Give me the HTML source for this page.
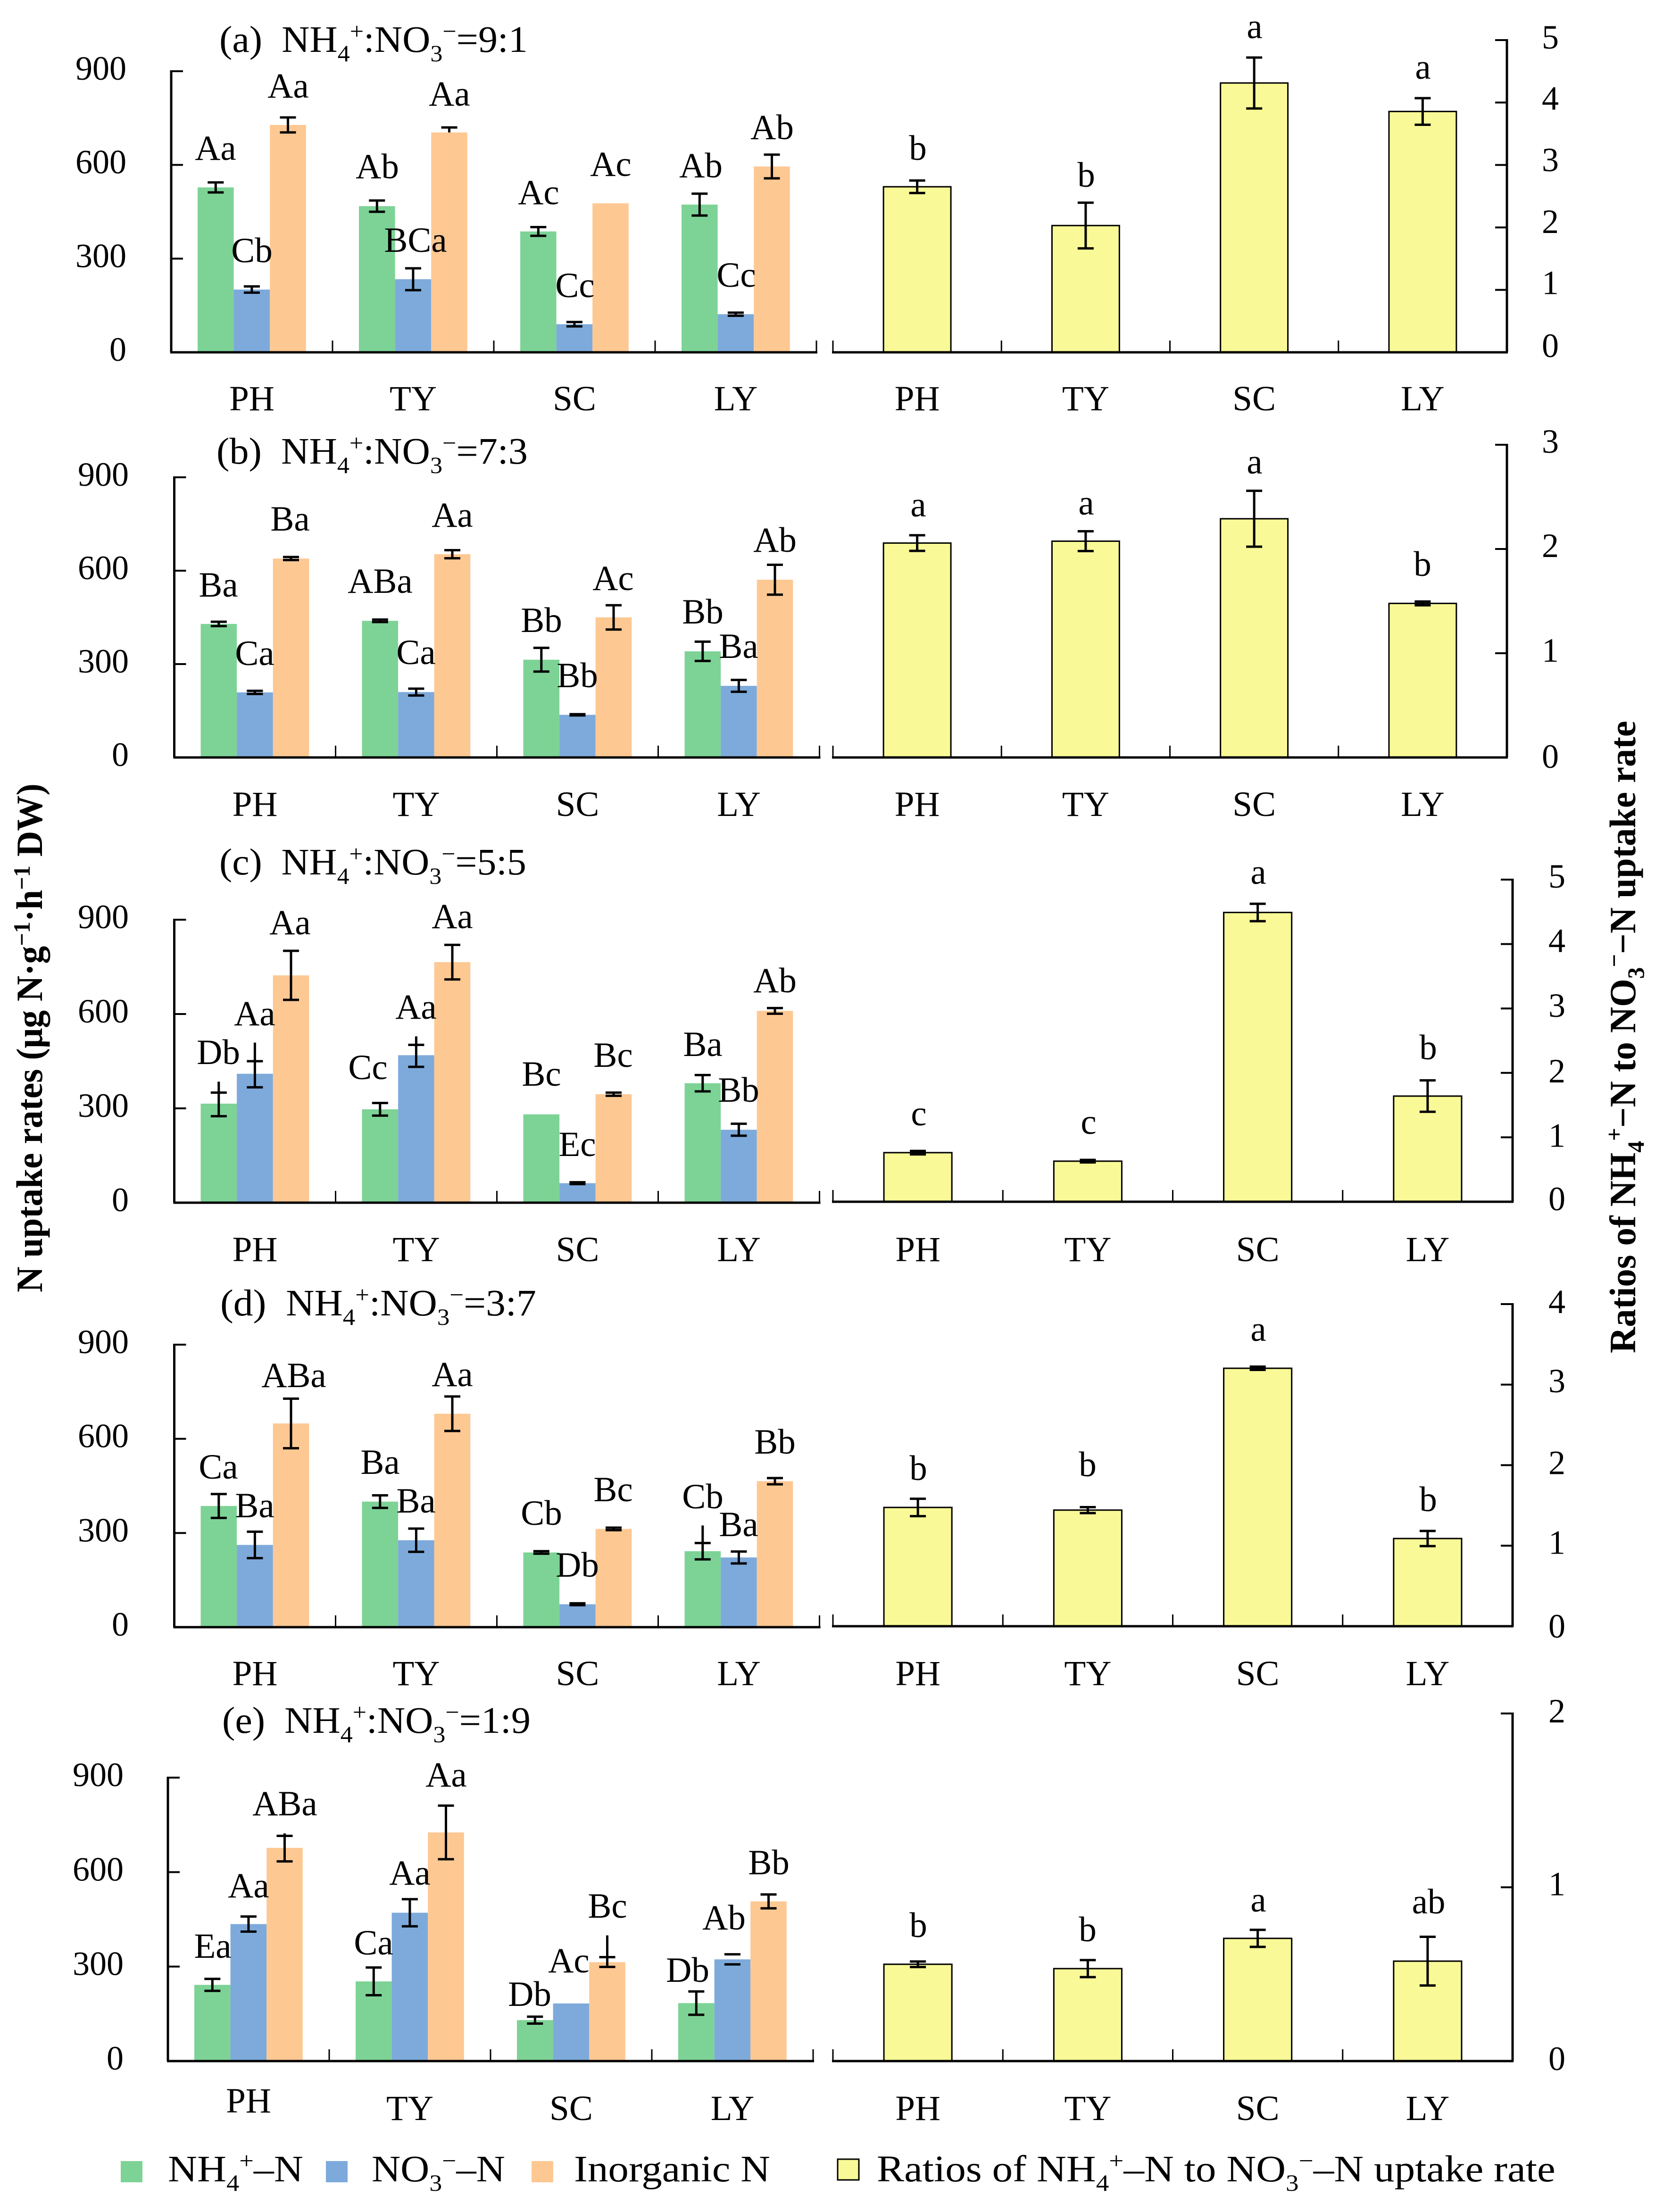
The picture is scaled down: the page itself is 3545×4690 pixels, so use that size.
<!DOCTYPE html>
<html lang="en">
<head>
<meta charset="utf-8">
<title>N uptake rates chart</title>
<style>
html,body{margin:0;padding:0;background:#fff;}
svg{display:block;}
text{font-family:"Liberation Serif","DejaVu Serif",serif;font-size:75px;fill:#000;white-space:pre;}
text.tick{font-size:72px;}
text.fit{font-size:79px;}
.sub{font-size:50px;}
text.bold{font-weight:bold;font-size:78px;}
.bold .sub{font-size:50px;}
</style>
</head>
<body>
<svg id="chart" xmlns="http://www.w3.org/2000/svg" width="3545" height="4690" viewBox="0 0 3545 4690">
<rect x="0" y="0" width="3545" height="4690" fill="#ffffff"/>
<g id="marks"></g>

<text class="fit" data-x="465" data-y="110" data-w="654">(a)  NH<tspan class="sub" dy="20">4</tspan><tspan class="sub" dy="-47">+</tspan><tspan dy="27">:NO</tspan><tspan class="sub" dy="20">3</tspan><tspan class="sub" dy="-47">−</tspan><tspan dy="27">=9:1</tspan></text>
<text class="fit" data-x="459" data-y="983" data-w="660">(b)  NH<tspan class="sub" dy="20">4</tspan><tspan class="sub" dy="-47">+</tspan><tspan dy="27">:NO</tspan><tspan class="sub" dy="20">3</tspan><tspan class="sub" dy="-47">−</tspan><tspan dy="27">=7:3</tspan></text>
<text class="fit" data-x="465" data-y="1854" data-w="651">(c)  NH<tspan class="sub" dy="20">4</tspan><tspan class="sub" dy="-47">+</tspan><tspan dy="27">:NO</tspan><tspan class="sub" dy="20">3</tspan><tspan class="sub" dy="-47">−</tspan><tspan dy="27">=5:5</tspan></text>
<text class="fit" data-x="467" data-y="2789" data-w="670">(d)  NH<tspan class="sub" dy="20">4</tspan><tspan class="sub" dy="-47">+</tspan><tspan dy="27">:NO</tspan><tspan class="sub" dy="20">3</tspan><tspan class="sub" dy="-47">−</tspan><tspan dy="27">=3:7</tspan></text>
<text class="fit" data-x="471" data-y="3674" data-w="654">(e)  NH<tspan class="sub" dy="20">4</tspan><tspan class="sub" dy="-47">+</tspan><tspan dy="27">:NO</tspan><tspan class="sub" dy="20">3</tspan><tspan class="sub" dy="-47">−</tspan><tspan dy="27">=1:9</tspan></text>

<text class="fit bold" data-x="89" data-y="2740" data-w="1079" data-rot="-90">N uptake rates (μg N·g<tspan class="sub" dy="-26">−1</tspan><tspan dy="26">·h</tspan><tspan class="sub" dy="-26">−1</tspan><tspan dy="26"> DW)</tspan></text>
<text class="fit bold" data-x="3467" data-y="2869" data-w="1341" data-rot="-90">Ratios of NH<tspan class="sub" dy="18">4</tspan><tspan class="sub" dy="-46">+</tspan><tspan dy="28">−N to NO</tspan><tspan class="sub" dy="18">3</tspan><tspan class="sub" dy="-46">−</tspan><tspan dy="28">−N uptake rate</tspan></text>

<g>
<rect x="256" y="4582" width="46" height="45" fill="#7DD396"/>
<text class="fit" data-x="356" data-y="4625" data-w="287">NH<tspan class="sub" dy="20">4</tspan><tspan class="sub" dy="-47">+</tspan><tspan dy="27">–N</tspan></text>
<rect x="691" y="4582" width="46" height="45" fill="#7DAADB"/>
<text class="fit" data-x="788" data-y="4625" data-w="283">NO<tspan class="sub" dy="20">3</tspan><tspan class="sub" dy="-47">−</tspan><tspan dy="27">–N</tspan></text>
<rect x="1127" y="4582" width="46" height="45" fill="#FEC893"/>
<text class="fit" data-x="1217" data-y="4625" data-w="416">Inorganic N</text>
<rect x="1776" y="4578" width="45" height="44" fill="#F9F997" stroke="#000" stroke-width="3"/>
<text class="fit" data-x="1859" data-y="4625" data-w="1439">Ratios of NH<tspan class="sub" dy="20">4</tspan><tspan class="sub" dy="-47">+</tspan><tspan dy="27">–N to NO</tspan><tspan class="sub" dy="20">3</tspan><tspan class="sub" dy="-47">−</tspan><tspan dy="27">–N uptake rate</tspan></text>
</g>
</svg>

<script>
// ---------- data ----------
const categories = ['PH', 'TY', 'SC', 'LY'];
const leftTicks = [0, 300, 600, 900];

// Error entries: [up, down, extraStemAboveCap]; down null = no lower cap; [0,0] = no error bar.
const aNh4 = [528, 468, 387, 473];
const aNh4Err = [[16, 16], [18, 18], [14, 14], [35, 35]];
const aNo3 = [201, 234, 90, 122];
const aNo3Err = [[10, 10], [35, 35], [7, 7], [5, 5]];
const aInorg = [728, 704, 477, 595];
const aInorgErr = [[24, 24], [16, null], [0, 0], [38, 38]];
const aRatio = [2.651, 2.03, 4.313, 3.857];
const aRatioErr = [0.10, 0.366, 0.408, 0.213];
const aRatioTicks = [0, 1, 2, 3, 4, 5];
const aNh4Letters = ['Aa', 'Ab', 'Ac', 'Ab'];
const aNo3Letters = ['Cb', 'BCa', 'Cc', 'Cc'];
const aInorgLetters = ['Aa', 'Aa', 'Ac', 'Ab'];
const aRatioLetters = ['b', 'b', 'a', 'a'];

const bNh4 = [429, 439, 314, 341];
const bNh4Err = [[7, 7], [4, 4], [38, 38], [31, 31]];
const bNo3 = [209, 210, 137, 230];
const bNo3Err = [[5, 5], [11, 11], [2, 2], [19, 19]];
const bInorg = [639, 653, 450, 571];
const bInorgErr = [[5, 5], [13, 13], [39, 39], [48, 48]];
const bRatio = [2.057, 2.075, 2.29, 1.478];
const bRatioErr = [0.075, 0.095, 0.268, 0.018];
const bRatioTicks = [0, 1, 2, 3];
const bNh4Letters = ['Ba', 'ABa', 'Bb', 'Bb'];
const bNo3Letters = ['Ca', 'Ca', 'Bb', 'Ba'];
const bInorgLetters = ['Ba', 'Aa', 'Ac', 'Ab'];
const bRatioLetters = ['a', 'a', 'a', 'b'];

const cNh4 = [315, 297, 281, 380];
const cNh4Err = [[35, 40, 35], [20, 20], [0, 0], [26, 26]];
const cNo3 = [410, 469, 62, 232];
const cNo3Err = [[40, 43, 59], [33, 37, 27], [3, 3], [19, 19]];
const cInorg = [723, 765, 345, 610];
const cInorgErr = [[78, 78], [55, 55], [5, 5], [9, 9]];
const cRatio = [0.762, 0.63, 4.49, 1.64];
const cRatioErr = [0.027, 0.02, 0.135, 0.244];
const cRatioTicks = [0, 1, 2, 3, 4, 5];
const cNh4Letters = ['Db', 'Cc', 'Bc', 'Ba'];
const cNo3Letters = ['Aa', 'Aa', 'Ec', 'Bb'];
const cInorgLetters = ['Aa', 'Aa', 'Bc', 'Ab'];
const cRatioLetters = ['c', 'c', 'a', 'b'];

const dNh4 = [386, 400, 238, 242];
const dNh4Err = [[38, 38], [20, 20], [4, 4], [26, 26, 56]];
const dNo3 = [262, 277, 73, 222];
const dNo3Err = [[42, 42], [37, 37], [3, 3], [19, 19]];
const dInorg = [649, 680, 313, 465];
const dInorgErr = [[79, 79], [55, 55], [4, 4], [10, 10]];
const dRatio = [1.475, 1.442, 3.203, 1.089];
const dRatioErr = [0.108, 0.037, 0.02, 0.094];
const dRatioTicks = [0, 1, 2, 3, 4];
const dNh4Letters = ['Ca', 'Ba', 'Cb', 'Cb'];
const dNo3Letters = ['Ba', 'Ba', 'Db', 'Ba'];
const dInorgLetters = ['ABa', 'Aa', 'Bc', 'Bb'];
const dRatioLetters = ['b', 'b', 'a', 'b'];

const eNh4 = [242, 253, 130, 184];
const eNh4Err = [[19, 19], [44, 44], [11, 11], [37, 37]];
const eNo3 = [435, 471, 183, 323];
const eNo3Err = [[24, 24], [43, 43], [0, 0], [16, 16]];
const eInorg = [677, 726, 314, 507];
const eInorgErr = [[38, 43, 8], [85, 85], [16, 15, 69], [22, 22]];
const eRatio = [0.557, 0.532, 0.706, 0.575];
const eRatioErr = [0.016, 0.049, 0.049, 0.14];
const eRatioTicks = [0, 1, 2];
const eNh4Letters = ['Ea', 'Ca', 'Db', 'Db'];
const eNo3Letters = ['Aa', 'Aa', 'Ac', 'Ab'];
const eInorgLetters = ['ABa', 'Aa', 'Bc', 'Bb'];
const eRatioLetters = ['b', 'b', 'a', 'ab'];

// ---------- layout (pixels, separate from the data) ----------
const COLORS = {nh4: '#7DD396', no3: '#7DAADB', inorg: '#FEC893', ratio: '#F9F997'};
const panelLayouts = [
  {id: 'a', lx0: 363, lTop: 151, lY0: 747, tickRight: 268, rx0: 1766, rEnd: 3195, rTop: 85, rY0: 747, rLabelX: 3287,
   rTickDy: [10, 9, 12, 13, 15, 18], xLabelYL: [870, 870, 870, 870], xLabelYR: 870, hiddenStem: null,
   nh4Pos: [[457, 339], [800, 378], [1142, 433], [1486, 376]],
   no3Pos: [[534, 556], [881, 534], [1219, 630], [1561, 608]],
   inorgPos: [[611, 207], [953, 224], [1295, 373], [1637, 295]],
   ratioPos: [[1946, 339], [2303, 396], [2660, 81], [3017, 167]],
   nh4: aNh4, nh4Err: aNh4Err, no3: aNo3, no3Err: aNo3Err, inorg: aInorg, inorgErr: aInorgErr,
   ratio: aRatio, ratioErr: aRatioErr, ratioTicks: aRatioTicks,
   nh4L: aNh4Letters, no3L: aNo3Letters, inorgL: aInorgLetters, ratioL: aRatioLetters},
  {id: 'b', lx0: 369.5, lTop: 1012, lY0: 1606, tickRight: 273, rx0: 1766, rEnd: 3195, rTop: 943, rY0: 1606, rLabelX: 3287,
   rTickDy: [22, 18, 17, 17], xLabelYL: [1730, 1730, 1730, 1730], xLabelYR: 1730, hiddenStem: null,
   nh4Pos: [[463, 1265], [806, 1257], [1148, 1340], [1490, 1322]],
   no3Pos: [[540, 1410], [882, 1408], [1224, 1457], [1566, 1395]],
   inorgPos: [[615, 1125], [959, 1117], [1300, 1251], [1643, 1170]],
   ratioPos: [[1947, 1095], [2303, 1091], [2660, 1004], [3016, 1221]],
   nh4: bNh4, nh4Err: bNh4Err, no3: bNo3, no3Err: bNo3Err, inorg: bInorg, inorgErr: bInorgErr,
   ratio: bRatio, ratioErr: bRatioErr, ratioTicks: bRatioTicks,
   nh4L: bNh4Letters, no3L: bNo3Letters, inorgL: bInorgLetters, ratioL: bRatioLetters},
  {id: 'c', lx0: 369.5, lTop: 1950, lY0: 2550, tickRight: 273, rx0: 1766, rEnd: 3207, rTop: 1865, rY0: 2548, rLabelX: 3301,
   rTickDy: [18, 20, 20, 18, 17, 17], xLabelYL: [2674, 2674, 2674, 2674], xLabelYR: 2674, hiddenStem: null,
   nh4Pos: [[463, 2256], [780, 2288], [1148, 2302], [1490, 2239]],
   no3Pos: [[540, 2174], [882, 2160], [1224, 2451], [1566, 2336]],
   inorgPos: [[615, 1981], [959, 1968], [1300, 2262], [1643, 2104]],
   ratioPos: [[1948, 2386], [2308, 2404], [2668, 1874], [3028, 2246]],
   nh4: cNh4, nh4Err: cNh4Err, no3: cNo3, no3Err: cNo3Err, inorg: cInorg, inorgErr: cInorgErr,
   ratio: cRatio, ratioErr: cRatioErr, ratioTicks: cRatioTicks,
   nh4L: cNh4Letters, no3L: cNo3Letters, inorgL: cInorgLetters, ratioL: cRatioLetters},
  {id: 'd', lx0: 369.5, lTop: 2851, lY0: 3450, tickRight: 273, rx0: 1766, rEnd: 3207, rTop: 2765, rY0: 3448, rLabelX: 3301,
   rTickDy: [24, 17, 19, 16, 19], xLabelYL: [3573, 3573, 3573, 3573], xLabelYR: 3573, hiddenStem: null,
   nh4Pos: [[463, 3135], [806, 3125], [1148, 3233], [1490, 3198]],
   no3Pos: [[540, 3217], [882, 3207], [1224, 3343], [1566, 3257]],
   inorgPos: [[623, 2941], [959, 2939], [1300, 3183], [1643, 3082]],
   ratioPos: [[1947, 3138], [2306, 3130], [2668, 2843], [3028, 3204]],
   nh4: dNh4, nh4Err: dNh4Err, no3: dNo3, no3Err: dNo3Err, inorg: dInorg, inorgErr: dInorgErr,
   ratio: dRatio, ratioErr: dRatioErr, ratioTicks: dRatioTicks,
   nh4L: dNh4Letters, no3L: dNo3Letters, inorgL: dInorgLetters, ratioL: dRatioLetters},
  {id: 'e', lx0: 356, lTop: 3769, lY0: 4370, tickRight: 262, rx0: 1766, rEnd: 3207, rTop: 3633, rY0: 4370, rLabelX: 3301,
   rTickDy: [19, 17, 19], xLabelYL: [4479, 4495, 4495, 4495], xLabelYR: 4495, hiddenStem: {series: 'no3', cat: 3},
   nh4Pos: [[451, 4151], [792, 4144], [1123, 4253], [1458, 4202]],
   no3Pos: [[527, 4023], [869, 3996], [1206, 4182], [1535, 4091]],
   inorgPos: [[604, 3849], [946, 3788], [1288, 4066], [1630, 3974]],
   ratioPos: [[1947, 4107], [2306, 4116], [2668, 4053], [3029, 4057]],
   nh4: eNh4, nh4Err: eNh4Err, no3: eNo3, no3Err: eNo3Err, inorg: eInorg, inorgErr: eInorgErr,
   ratio: eRatio, ratioErr: eRatioErr, ratioTicks: eRatioTicks,
   nh4L: eNh4Letters, no3L: eNo3Letters, inorgL: eInorgLetters, ratioL: eRatioLetters}
];

const NS = 'http://www.w3.org/2000/svg';
const LEFT_CAT = 342, LEFT_BAR = 76.6, TICK = 25, CAP = 17, ERR_W = 5;
const seriesKeys = ['nh4', 'no3', 'inorg'];

function line(parent, x1, y1, x2, y2, w) {
  const el = document.createElementNS(NS, 'line');
  el.setAttribute('x1', x1); el.setAttribute('y1', y1);
  el.setAttribute('x2', x2); el.setAttribute('y2', y2);
  el.setAttribute('stroke', '#000');
  el.setAttribute('stroke-width', w);
  parent.appendChild(el);
  return el;
}
function rect(parent, x, y, w, h, fill) {
  const el = document.createElementNS(NS, 'rect');
  el.setAttribute('x', x); el.setAttribute('y', y);
  el.setAttribute('width', w); el.setAttribute('height', h);
  el.setAttribute('fill', fill);
  parent.appendChild(el);
  return el;
}
function label(parent, str, x, y, anchor) {
  const el = document.createElementNS(NS, 'text');
  el.setAttribute('x', x); el.setAttribute('y', y);
  el.setAttribute('text-anchor', anchor);
  el.textContent = str;
  parent.appendChild(el);
  return el;
}
function group(parent) {
  const el = document.createElementNS(NS, 'g');
  parent.appendChild(el);
  return el;
}

function errorBar(parent, cx, value, err, sy, hideStem) {
  const up = err[0], down = err[1], spur = err[2] || 0;
  if (!up && !down) return;
  const g = group(parent);
  
  
  const yHi = sy(value + up);
  const yLo = down === null ? sy(value) : sy(value - down);
  const yStemTop = sy(value + up + spur);
  if (!hideStem) line(g, cx, yStemTop, cx, yLo, ERR_W);
  line(g, cx - CAP, yHi, cx + CAP, yHi, ERR_W);
  if (down !== null) line(g, cx - CAP, yLo, cx + CAP, yLo, ERR_W);
}

const root = document.getElementById('marks');

panelLayouts.forEach(function (p) {
  const panel = group(root);
  
  

  // ---- left chart ----
  const syL = function (v) { return p.lY0 - (v / 900) * (p.lY0 - p.lTop); };
  const sxL = function (i) { return p.lx0 + LEFT_CAT * i; };
  const left = group(panel);
  
  

  seriesKeys.forEach(function (key, s) {
    p[key].forEach(function (v, i) {
      const x = sxL(i) + 56 + s * LEFT_BAR;
      const bar = rect(left, x, syL(v), LEFT_BAR, p.lY0 - syL(v), COLORS[key]);
      
      
    });
  });
  seriesKeys.forEach(function (key, s) {
    p[key].forEach(function (v, i) {
      const cx = sxL(i) + 56 + s * LEFT_BAR + LEFT_BAR / 2;
      const hide = p.hiddenStem && p.hiddenStem.series === key && p.hiddenStem.cat === i;
      errorBar(left, cx, v, p[key + 'Err'][i], syL, hide);
    });
  });
  seriesKeys.forEach(function (key) {
    p[key + 'L'].forEach(function (str, i) {
      const pos = p[key + 'Pos'][i];
      const t = label(left, str, pos[0], pos[1], 'middle');
      
      
    });
  });

  const lAxis = line(left, p.lx0, p.lTop - 2, p.lx0, p.lY0, 5);
  
  
  const xAxisL = line(left, p.lx0 - 2, p.lY0, sxL(4) + 2, p.lY0, 5);
  
  
  for (let i = 1; i <= 4; i++) {
    const sep = line(left, sxL(i), p.lY0 - TICK, sxL(i), p.lY0, 3);
    
    
  }
  leftTicks.forEach(function (v) {
    const mark = line(left, p.lx0, syL(v), p.lx0 + TICK, syL(v), 4);
    
    
    const t = label(left, String(v), p.tickRight, syL(v) + 18, 'end');
    t.setAttribute('class', 'tick');
    
    
  });
  categories.forEach(function (c, i) {
    const t = label(left, c, sxL(i) + LEFT_CAT / 2, p.xLabelYL[i], 'middle');
    
    
  });

  // ---- right chart ----
  const rMax = p.ratioTicks[p.ratioTicks.length - 1];
  const syR = function (v) { return p.rY0 - (v / rMax) * (p.rY0 - p.rTop); };
  const rCat = (p.rEnd - p.rx0) / 4;
  const sxR = function (i) { return p.rx0 + rCat * i; };
  const rBar = rCat * 0.4;
  const right = group(panel);
  
  

  p.ratio.forEach(function (v, i) {
    const cx = sxR(i) + rCat / 2;
    const bar = rect(right, cx - rBar / 2, syR(v), rBar, p.rY0 - syR(v), COLORS.ratio);
    bar.setAttribute('stroke', '#000');
    bar.setAttribute('stroke-width', '3');
    
    
    errorBar(right, cx, v, [p.ratioErr[i], p.ratioErr[i]], syR, false);
    const pos = p.ratioPos[i];
    const t = label(right, p.ratioL[i], pos[0], pos[1], 'middle');
    
    
    const x = label(right, categories[i], cx, p.xLabelYR, 'middle');
    
    
  });
  const xAxisR = line(right, p.rx0 - 2, p.rY0, p.rEnd + 2, p.rY0, 5);
  
  
  const rAxis = line(right, p.rEnd, p.rTop - 2, p.rEnd, p.rY0, 5);
  
  
  for (let i = 0; i < 4; i++) {
    const sep = line(right, sxR(i), p.rY0 - TICK, sxR(i), p.rY0, 3);
    
    
  }
  p.ratioTicks.forEach(function (v, i) {
    const mark = line(right, p.rEnd - TICK, syR(v), p.rEnd, syR(v), 4);
    
    
    const t = label(right, String(v), p.rLabelX, syR(v) + p.rTickDy[i], 'middle');
    t.setAttribute('class', 'tick');
    
    
  });
});

// Stretch static text horizontally to the measured widths of the reference typeface.
document.querySelectorAll('text.fit').forEach(function (el) {
  const target = parseFloat(el.getAttribute('data-w'));
  const len = el.getComputedTextLength();
  const sx = len > 0 ? target / len : 1;
  const rot = el.getAttribute('data-rot');
  el.setAttribute('transform',
    'translate(' + el.getAttribute('data-x') + ',' + el.getAttribute('data-y') + ')' +
    (rot ? ' rotate(' + rot + ')' : '') + ' scale(' + sx + ',1)');
});
</script>
</body>
</html>
